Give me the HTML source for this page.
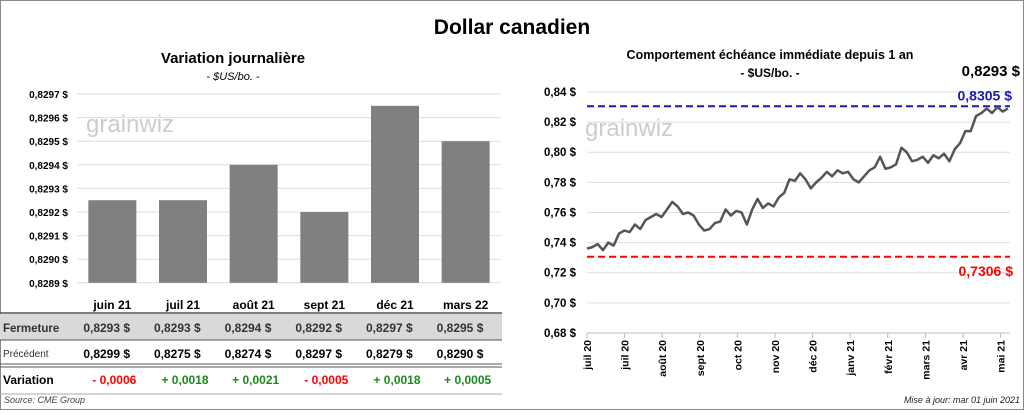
<!DOCTYPE html>
<html><head><meta charset="utf-8"><style>
body{margin:0;width:1024px;height:410px;background:#fff;font-family:"Liberation Sans",sans-serif;overflow:hidden}
svg text{font-family:"Liberation Sans",sans-serif}
</style></head><body>
<svg id="s" width="1024" height="410">
<rect x="0.5" y="0.5" width="1023" height="409" fill="#fff" stroke="#888"/>
<text x="512" y="34" font-size="21" font-weight="bold" text-anchor="middle">Dollar canadien</text>
<text x="233" y="63" font-size="15" font-weight="bold" text-anchor="middle">Variation  journalière</text>
<text x="233" y="80" font-size="11" font-style="italic" text-anchor="middle">- $US/bo. -</text>
<text x="770" y="59" font-size="12.5" font-weight="bold" text-anchor="middle">Comportement échéance immédiate depuis 1 an</text>
<text x="770" y="77" font-size="12" font-weight="bold" text-anchor="middle">- $US/bo. -</text>
<text x="1020" y="76" font-size="15" font-weight="bold" text-anchor="end">0,8293 $</text>
<g id="left"></g><g id="right"></g><g id="tbl"></g>
<text x="4" y="403" font-size="9" font-style="italic" fill="#444">Source: CME Group</text>
<text x="1020" y="403" font-size="9" font-style="italic" fill="#222" text-anchor="end">Mise à jour: mar 01 juin 2021</text>
</svg>
<script>
const NS="http://www.w3.org/2000/svg";
function mk(p,t,a,txt){const e=document.createElementNS(NS,t);for(const k in a)e.setAttribute(k,a[k]);if(txt!=null)e.textContent=txt;p.appendChild(e);return e;}
// left chart data
const barCats=["juin 21","juil 21","août 21","sept 21","déc 21","mars 22"];
const barVals=[0.82925,0.82925,0.8294,0.8292,0.82965,0.8295];
const leftTicks=[0.8289,0.8290,0.8291,0.8292,0.8293,0.8294,0.8295,0.8296,0.8297];
const closeVals=["0,8293","0,8293","0,8294","0,8292","0,8297","0,8295"];
const prevVals=["0,8299","0,8275","0,8274","0,8297","0,8279","0,8290"];
const varVals=["- 0,0006","+ 0,0018","+ 0,0021","- 0,0005","+ 0,0018","+ 0,0005"];
// right chart data
const lineVals=[0.736,0.737,0.739,0.735,0.740,0.738,0.746,0.748,0.747,0.752,0.749,0.755,0.757,0.759,0.757,0.762,0.767,0.764,0.759,0.760,0.758,0.752,0.748,0.749,0.753,0.754,0.762,0.758,0.761,0.760,0.752,0.762,0.769,0.763,0.766,0.764,0.770,0.773,0.782,0.781,0.786,0.782,0.776,0.780,0.783,0.787,0.784,0.788,0.786,0.787,0.782,0.780,0.784,0.788,0.790,0.797,0.789,0.790,0.792,0.803,0.800,0.794,0.795,0.797,0.793,0.798,0.796,0.799,0.794,0.802,0.806,0.814,0.814,0.824,0.826,0.829,0.826,0.830,0.827,0.829];
const rightTicks=[0.68,0.70,0.72,0.74,0.76,0.78,0.80,0.82,0.84];
const dateLabels=["juil 20","juil 20","août 20","sept 20","oct 20","nov 20","déc 20","janv 21","févr 21","mars 21","avr 21","mai 21"];
const highVal=0.8305, lowVal=0.7306;

const L=document.getElementById('left');
const ly=v=>94+(0.8297-v)*236000;
const lx=i=>77+(i+0.5)*(424/6);
mk(L,'text',{x:86,y:132,'font-size':24,fill:'#ccc'},'grainwiz');
leftTicks.forEach(t=>{const y=ly(t);
 const g=mk(L,'line',{x1:77,x2:501,y1:y,y2:y,stroke:'#ddd'});
 const tx=mk(L,'text',{x:68,y:y+4,'font-size':10,'font-weight':'bold','text-anchor':'end'},t.toFixed(4).replace('.',',')+' $');
 });
barVals.forEach((v,i)=>{const r=mk(L,'rect',{x:lx(i)-24,y:ly(v),width:48,height:ly(0.8289)-ly(v),fill:'#808080'});
 });
const T=document.getElementById('tbl');
barCats.forEach((c,i)=>{const t=mk(T,'text',{x:lx(i),y:309,'font-size':12,'font-weight':'bold','text-anchor':'middle'},c);});
const bg=mk(T,'rect',{x:0,y:314,width:502,height:26,fill:'#d9d9d9'});
[[313,'#555',1.5],[340,'#555',1],[364,'#555',1],[367,'#555',1],[394,'#aaa',1]].forEach(a=>{const l=mk(T,'line',{x1:0,x2:502,y1:a[0],y2:a[0],stroke:a[1],'stroke-width':a[2]});});
let h=mk(T,'text',{x:3,y:332,'font-size':11.5,'font-weight':'bold',fill:'#333'},'Fermeture');
h=mk(T,'text',{x:3,y:357,'font-size':10,fill:'#333'},'Précédent');
h=mk(T,'text',{x:3,y:384,'font-size':12,'font-weight':'bold'},'Variation');
barCats.forEach((c,i)=>{const x=lx(i);
 let t=mk(T,'text',{x:x-29,y:332,'font-size':12,'font-weight':'bold',fill:'#333'},closeVals[i]+'  $');
 t=mk(T,'text',{x:x-29,y:358,'font-size':12,'font-weight':'bold'},prevVals[i]+'  $');
 t=mk(T,'text',{x:x+2,y:384,'font-size':12,'font-weight':'bold','text-anchor':'middle',fill:varVals[i][0]=='-'?'#f00':'#1a8a1a'},varVals[i]);});

const R=document.getElementById('right');
const x0=587,x1=1008;
const ry=v=>92+(0.84-v)*1506;
const rx=i=>x0+i*(x1-x0)/(lineVals.length-1);
mk(R,'text',{x:585,y:136,'font-size':24,fill:'#ccc'},'grainwiz');
rightTicks.forEach(t=>{const y=ry(t);
 const g=mk(R,'line',{x1:587,x2:1010,y1:y,y2:y,stroke:t==0.68?'#bbb':'#ddd'});
 const tx=mk(R,'text',{x:576,y:y+4,'font-size':11.5,'font-weight':'bold','text-anchor':'end'},t.toFixed(2).replace('.',',')+' $');
 });
dateLabels.forEach((d,i)=>{const x=587+i*37.6;
 const tk=mk(R,'line',{x1:x,x2:x,y1:333,y2:338,stroke:'#bbb'});
 const t=mk(R,'text',{x:0,y:0,'font-size':10.5,'font-weight':'bold','text-anchor':'end',transform:`translate(${x+4},340) rotate(-90)`},d);
 });
let ln=mk(R,'line',{x1:587,x2:1010,y1:ry(highVal),y2:ry(highVal),stroke:'#1a1ab0','stroke-width':2,'stroke-dasharray':'7,4'});
ln=mk(R,'line',{x1:587,x2:1010,y1:ry(lowVal),y2:ry(lowVal),stroke:'#f00','stroke-width':2,'stroke-dasharray':'7,4'});
let lb=mk(R,'text',{x:1012,y:ry(highVal)-6,'font-size':14,'font-weight':'bold',fill:'#1a1ab0','text-anchor':'end'},highVal.toFixed(4).replace('.',',')+' $');
lb=mk(R,'text',{x:1013,y:ry(lowVal)+19,'font-size':14,'font-weight':'bold',fill:'#f00','text-anchor':'end'},lowVal.toFixed(4).replace('.',',')+' $');
const p=mk(R,'polyline',{points:lineVals.map((v,i)=>rx(i)+','+ry(v)).join(' '),fill:'none',stroke:'#555','stroke-width':2.5,'stroke-linejoin':'round'});

</script>
</body></html>
